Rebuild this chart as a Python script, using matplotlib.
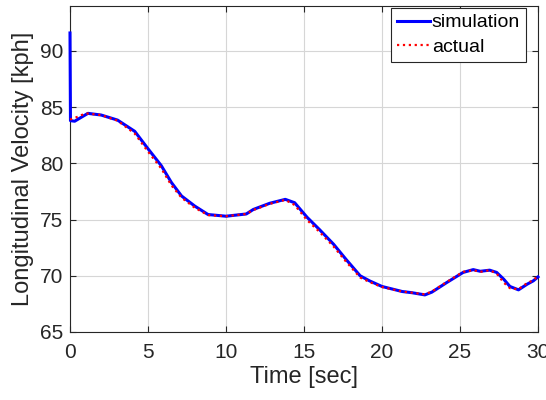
import matplotlib
matplotlib.use("Agg")
import matplotlib.pyplot as plt

# Simulated longitudinal velocity (kph) over time (sec)
sim_time = [0.0, 0.03, 0.3, 0.6, 1.15, 2.0, 3.05, 4.15, 5.0, 5.85, 6.5, 7.15, 8.0, 8.85,
            10.0, 11.3, 11.75, 12.8, 13.8, 14.4, 15.2, 16.0, 16.9, 17.7, 18.6, 19.2,
            20.0, 21.3, 21.9, 22.75, 23.2, 24.15, 25.2, 25.85, 26.3, 26.9, 27.35,
            27.8, 28.2, 28.75, 29.3, 29.7, 30.0]
sim_speed = [91.6, 83.8, 83.75, 84.0, 84.45, 84.3, 83.85, 82.85, 81.3, 79.8, 78.3, 77.1,
             76.2, 75.45, 75.3, 75.5, 75.9, 76.45, 76.8, 76.5, 75.2, 74.1, 72.8, 71.45,
             70.0, 69.55, 69.05, 68.6, 68.5, 68.3, 68.55, 69.4, 70.3, 70.55, 70.4, 70.5,
             70.3, 69.7, 69.05, 68.75, 69.25, 69.55, 69.9]

# Measured (actual) longitudinal velocity
act_time = [0.0, 0.5, 1.0, 2.0, 3.05, 4.15, 5.0, 5.85, 6.5, 7.15, 8.0, 8.85, 10.0, 11.3,
            11.75, 12.8, 13.8, 14.4, 15.2, 16.0, 16.9, 17.7, 18.6, 19.2, 20.0, 21.3,
            21.9, 22.75, 23.2, 24.15, 25.2, 25.85, 26.3, 26.9, 27.35, 27.8, 28.2,
            28.75, 29.3, 29.7, 30.0]
act_speed = [83.9, 84.15, 84.45, 84.3, 83.8, 82.65, 81.05, 79.55, 78.05, 76.95, 76.05,
             75.4, 75.3, 75.5, 75.85, 76.4, 76.75, 76.3, 74.95, 73.9, 72.6, 71.25, 69.85,
             69.45, 69.0, 68.6, 68.5, 68.35, 68.6, 69.45, 70.35, 70.5, 70.35, 70.5, 70.2,
             69.4, 68.9, 68.8, 69.35, 69.6, 70.0]

plt.rcParams['font.family'] = ['Liberation Sans', 'DejaVu Sans']

fig = plt.figure(figsize=(5.46, 4), dpi=100)
ax = fig.add_axes([70 / 546, 68 / 400, 468 / 546, 326 / 400])

# lines drawn over the spines so the spike at t=0 shows in full
ax.plot(sim_time, sim_speed, color='#0000ff', lw=2.2, label='simulation',
        clip_on=False, zorder=3)
ax.plot(act_time, act_speed, color='#ff0000', lw=1.6, ls=':', label='actual',
        clip_on=False, zorder=3.1)

ax.set_xlim(0, 30)
ax.set_ylim(65, 94)
ax.set_xticks([0, 5, 10, 15, 20, 25, 30])
ax.set_yticks([65, 70, 75, 80, 85, 90])

ax.grid(True, color='#d6d6d6', lw=0.8)
ax.set_axisbelow(True)
for s in ax.spines.values():
    s.set_color('#262626')
    s.set_linewidth(0.8)
ax.tick_params(direction='in', length=4, width=0.8, colors='#262626',
               labelsize=15, top=True, right=True)
ax.tick_params(axis='x', pad=8)
ax.tick_params(axis='y', pad=5)

ax.set_xlabel('Time [sec]', fontsize=17, color='#262626', labelpad=3)
ax.set_ylabel('Longitudinal Velocity [kph]', fontsize=17, color='#262626', labelpad=4)

leg = ax.legend(loc='upper right', bbox_to_anchor=(0.974, 0.994), borderaxespad=0,
                fontsize=14, fancybox=False, framealpha=1, edgecolor='#262626',
                handlelength=1.7, handletextpad=0.1, borderpad=0.3, labelspacing=0.35)
leg.get_frame().set_linewidth(0.8)
leg.set_zorder(5)

plt.savefig('out.png', dpi=100)
